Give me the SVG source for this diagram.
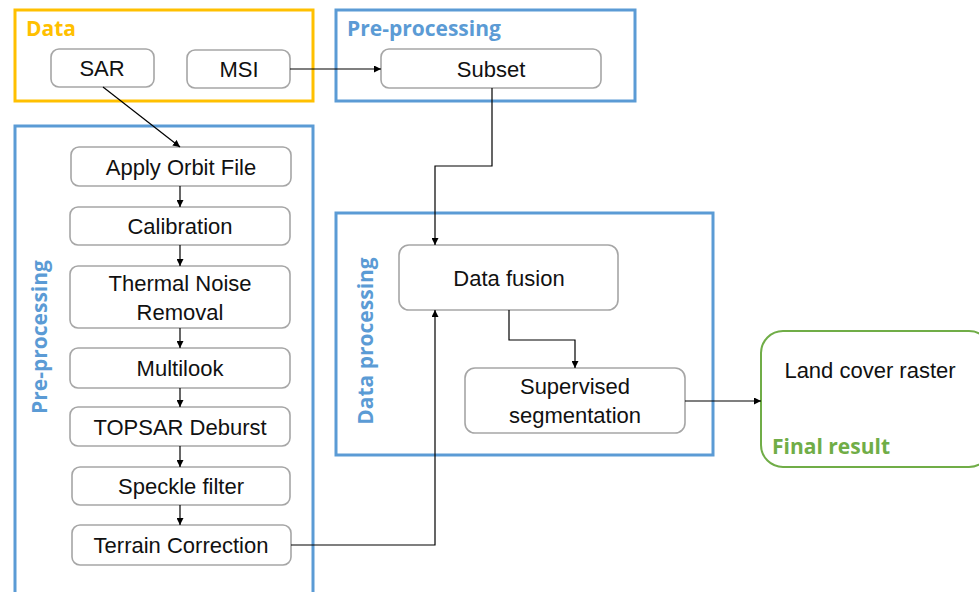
<svg xmlns="http://www.w3.org/2000/svg" width="979" height="592" viewBox="0 0 979 592">
<defs>
<marker id="ah" viewBox="0 0 10 10" refX="10" refY="5" markerWidth="7" markerHeight="7" markerUnits="userSpaceOnUse" orient="auto"><path d="M0,0 L10,5 L0,10 z" fill="#000"/></marker>
<style>
.grp{fill:none;stroke-width:3}
.blue{stroke:#5B9BD5}
.yel{stroke:#FFC000}
.node{fill:#fff;stroke:#A6A6A6;stroke-width:1.6}
.t{font-family:"Liberation Sans","Open Sans",sans-serif;font-size:22px;fill:#111;text-anchor:middle}
.title{font-family:"Open Sans","Liberation Sans",sans-serif;font-size:21px;font-weight:bold}
.c{fill:none;stroke:#000;stroke-width:1.2;marker-end:url(#ah)}
</style>
</defs>
<rect width="979" height="592" fill="#fff"/>
<g id="group-data"><rect class="grp yel" x="15" y="10" width="298" height="91"/><text class="title" x="26" y="36" fill="#FFC000">Data</text></g>
<g id="group-pre-top"><rect class="grp blue" x="336" y="10" width="299" height="91"/><text class="title" x="347" y="36" fill="#5B9BD5">Pre-processing</text></g>
<g id="group-pre-left"><rect class="grp blue" x="15" y="126" width="298" height="470"/><text class="title" transform="translate(47,337) rotate(-90)" text-anchor="middle" fill="#5B9BD5">Pre-processing</text></g>
<g id="group-dataproc"><rect class="grp blue" x="336" y="213" width="377" height="242"/><text class="title" transform="translate(373,341) rotate(-90)" text-anchor="middle" fill="#5B9BD5">Data processing</text></g>
<g id="group-final"><rect x="761" y="331" width="230" height="136" rx="22" fill="#fff" stroke="#70AD47" stroke-width="2"/><text class="t" x="870" y="378">Land cover raster</text><text class="title" x="772" y="454" fill="#70AD47">Final result</text></g>

<g id="n-sar"><rect class="node" x="51" y="49" width="103" height="38" rx="8"/><text class="t" x="102" y="76">SAR</text></g>
<g id="n-msi"><rect class="node" x="187" y="50" width="103" height="38" rx="8"/><text class="t" x="239" y="77">MSI</text></g>
<g id="n-subset"><rect class="node" x="381" y="49" width="220" height="39" rx="8"/><text class="t" x="491" y="77">Subset</text></g>
<g id="n-orbit"><rect class="node" x="71" y="147" width="220" height="39" rx="8"/><text class="t" x="181" y="175">Apply Orbit File</text></g>
<g id="n-calib"><rect class="node" x="70" y="207" width="220" height="38" rx="8"/><text class="t" x="180" y="234">Calibration</text></g>
<g id="n-thermal"><rect class="node" x="70" y="266" width="220" height="62" rx="8"/><text class="t" x="180" y="291">Thermal Noise</text><text class="t" x="180" y="320">Removal</text></g>
<g id="n-multi"><rect class="node" x="70" y="348" width="220" height="40" rx="8"/><text class="t" x="180" y="376">Multilook</text></g>
<g id="n-topsar"><rect class="node" x="70" y="407" width="220" height="39" rx="8"/><text class="t" x="180" y="435">TOPSAR Deburst</text></g>
<g id="n-speckle"><rect class="node" x="72" y="467" width="218" height="38" rx="8"/><text class="t" x="181" y="494">Speckle filter</text></g>
<g id="n-terrain"><rect class="node" x="72" y="525" width="219" height="40" rx="8"/><text class="t" x="181" y="553">Terrain Correction</text></g>
<g id="n-fusion"><rect class="node" x="399" y="245" width="219" height="65" rx="10"/><text class="t" x="509" y="286">Data fusion</text></g>
<g id="n-seg"><rect class="node" x="465" y="368" width="220" height="65" rx="10"/><text class="t" x="575" y="394">Supervised</text><text class="t" x="575" y="423">segmentation</text></g>

<g id="connectors">
<path class="c" d="M103,87 L180,147"/>
<path class="c" d="M290,69 L381,69"/>
<path class="c" d="M180,186 L180,207"/>
<path class="c" d="M180,245 L180,266"/>
<path class="c" d="M180,328 L180,348"/>
<path class="c" d="M180,388 L180,407"/>
<path class="c" d="M180,446 L180,467"/>
<path class="c" d="M180,505 L180,525"/>
<path class="c" d="M492,88 L492,166 L435,166 L435,245"/>
<path class="c" d="M291,545 L435,545 L435,310"/>
<path class="c" d="M509,310 L509,340 L575,340 L575,368"/>
<path class="c" d="M685,401 L761,401"/>
</g>
</svg>
